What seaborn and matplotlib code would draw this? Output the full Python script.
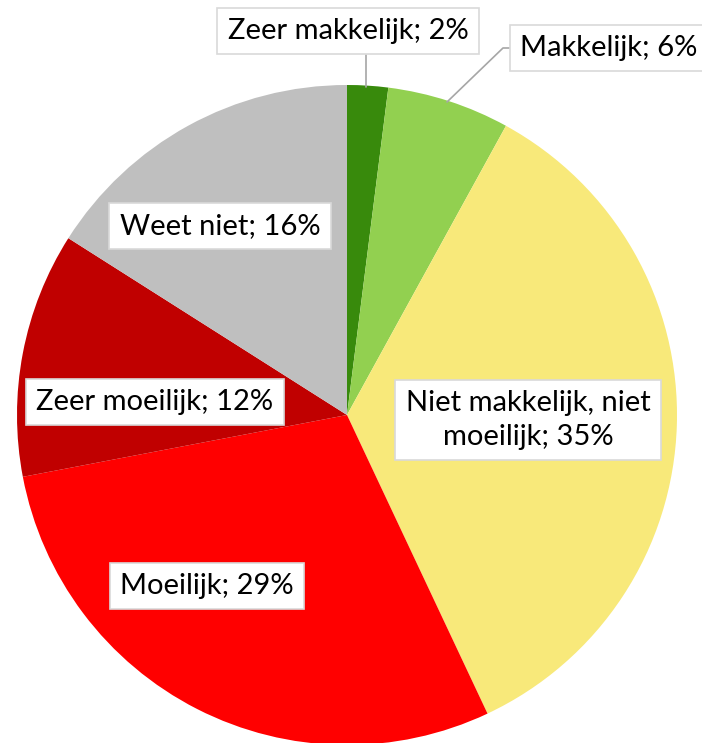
import matplotlib
matplotlib.use("Agg")
import matplotlib.pyplot as plt
import seaborn as sns

sns.set_theme(style="white")
plt.rcParams['font.family'] = ['Lato', 'DejaVu Sans']

categories = ["Zeer makkelijk", "Makkelijk", "Niet makkelijk, niet\nmoeilijk",
              "Moeilijk", "Zeer moeilijk", "Weet niet"]
values = [2, 6, 35, 29, 12, 16]
colors = ["#388A0C", "#92D050", "#F8E97A", "#FF0000", "#C00000", "#BFBFBF"]

# label box centres in pixel coordinates (reference image)
label_px = [(348, 31), (609, 48), (528, 420), (207, 586), (155, 402), (220, 226)]

W, H = 702, 743
cx, cy, R = 347, 415, 330

fig = plt.figure(figsize=(W / 100, H / 100), dpi=100)
ax = fig.add_axes([0, 0, 1, 1])

ax.pie(values, colors=colors, startangle=90, counterclock=False, radius=1,
       wedgeprops=dict(linewidth=0))
ax.set_xlim((0 - cx) / R, (W - cx) / R)
ax.set_ylim((cy - H) / R, (cy - 0) / R)
ax.set_aspect("equal")
ax.axis("off")

def to_data(px, py):
    return (px - cx) / R, (cy - py) / R

# leader lines
lc = "#A6A6A6"
x1, y1 = to_data(366, 55); x2, y2 = to_data(366, 87)
ax.plot([x1, x2], [y1, y2], color=lc, lw=1.2, zorder=3)
p = [to_data(513, 48), to_data(503, 48), to_data(447, 102)]
ax.plot([q[0] for q in p], [q[1] for q in p], color=lc, lw=1.2, zorder=3)

for cat, val, (px, py) in zip(categories, values, label_px):
    x, y = to_data(px, py)
    ax.text(x, y, f"{cat}; {val}%", ha="center", va="center", fontsize=21,
            color="black", linespacing=1.4, zorder=5,
            bbox=dict(boxstyle="square,pad=0.35", fc="white", ec="#D9D9D9", lw=1.2))

fig.savefig("out.png", dpi=100)
